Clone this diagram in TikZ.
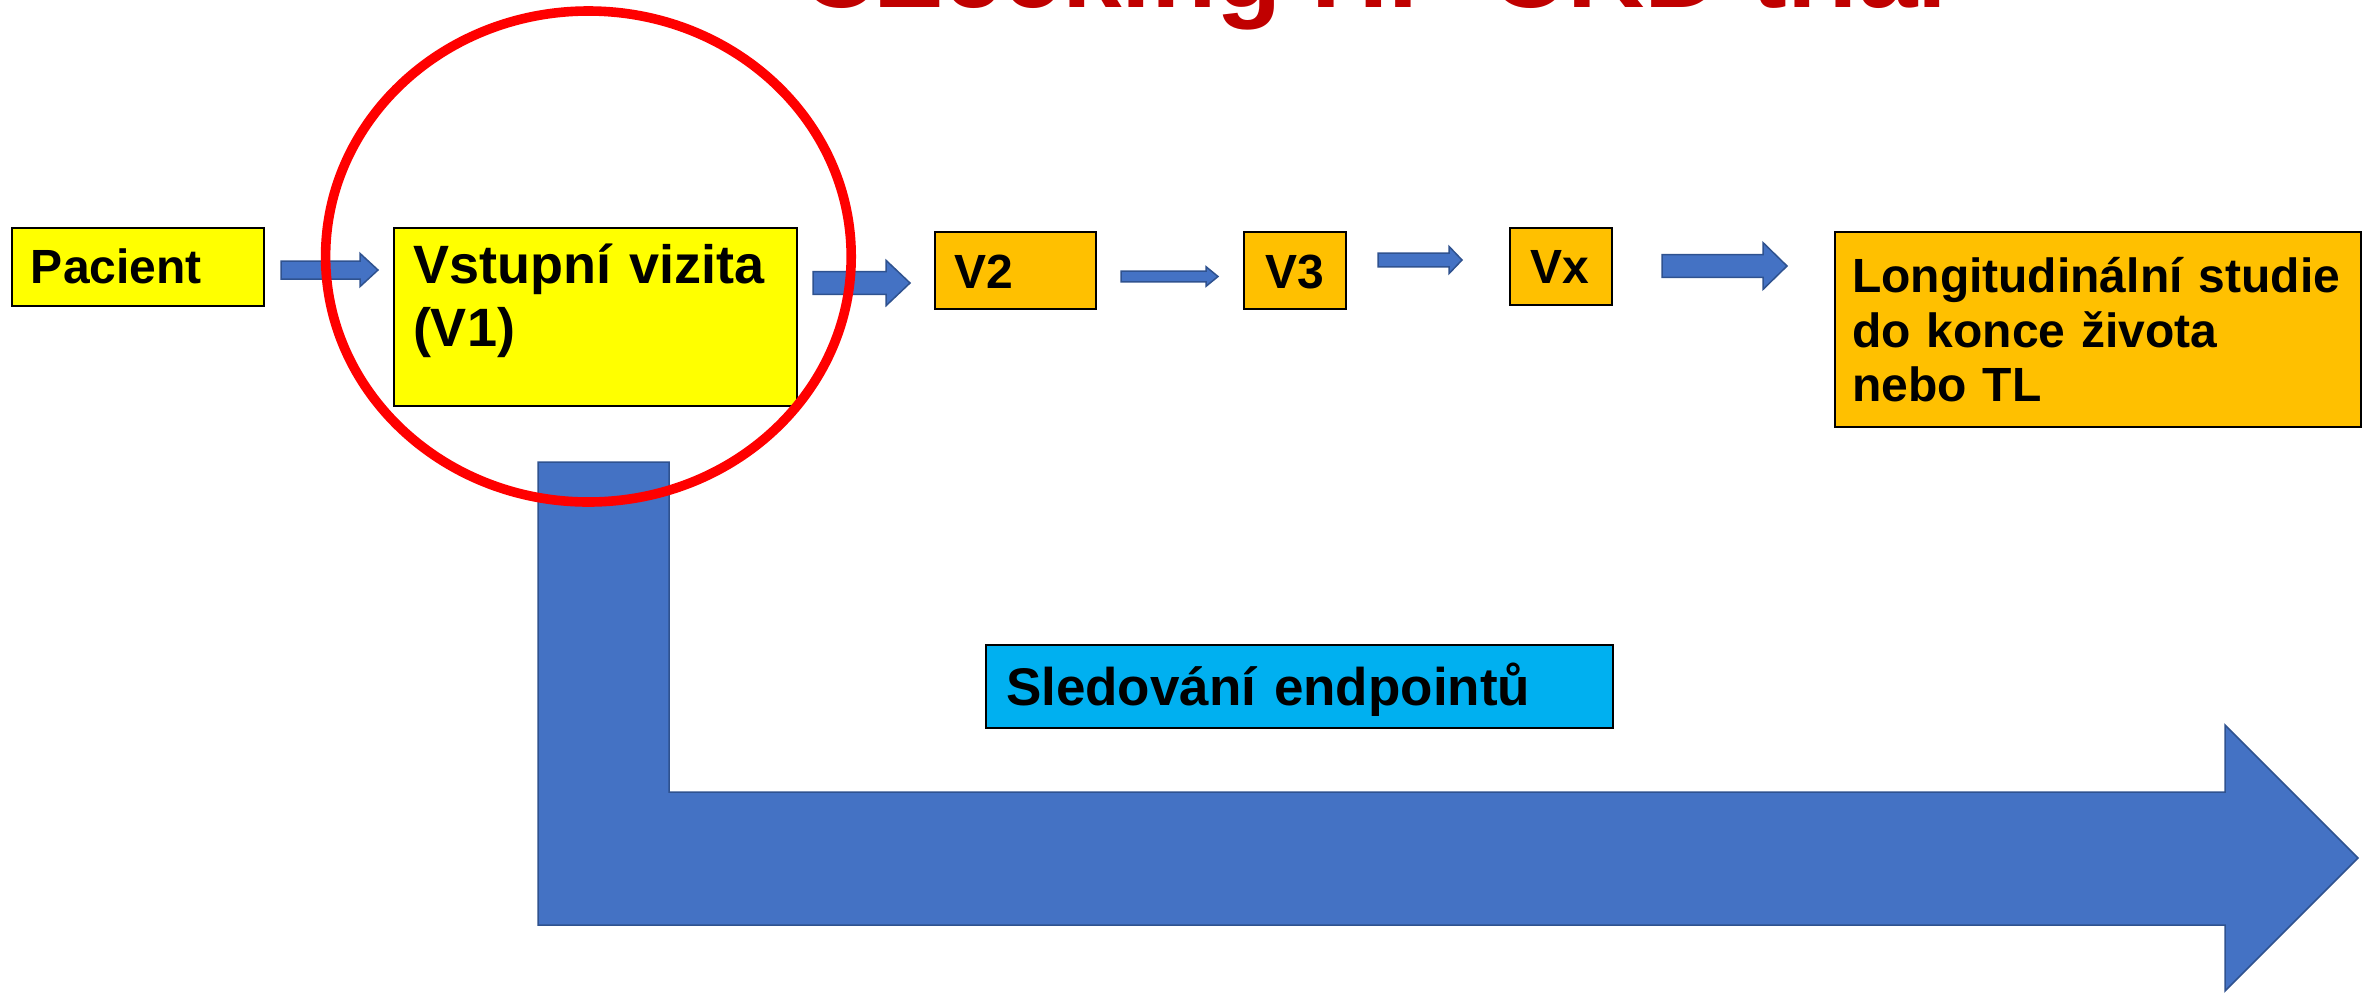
\documentclass[tikz,border=0pt]{standalone}
\usepackage{fontspec}
\setmainfont{Liberation Sans}
\usetikzlibrary{calc}

\definecolor{boxyellow}{HTML}{FFFF00}
\definecolor{boxorange}{HTML}{FFC000}
\definecolor{boxcyan}{HTML}{00B0F0}
\definecolor{arrowblue}{HTML}{4472C4}
\definecolor{arrowedge}{HTML}{2F528F}
\definecolor{ringred}{HTML}{FF0000}
\definecolor{titlered}{HTML}{C00000}

% block arrow: start point, tip point, shaft half width, head half width, head length
\newcommand\flowarrow[5]{%
  \filldraw[blockarrow] ($(#1)+(0,-#3)$) -- ($(#2)+(-#5,-#3)$) -- ($(#2)+(-#5,-#4)$)
    -- (#2) -- ($(#2)+(-#5,#4)$) -- ($(#2)+(-#5,#3)$) -- ($(#1)+(0,#3)$) -- cycle;}

\begin{document}
\begin{tikzpicture}[x=0.5pt,y=-0.5pt,
  stepbox/.style={draw=black, line width=1pt, anchor=north west,
    inner ysep=0pt, align=left, font=\bfseries\fontsize{24}{27.2}\selectfont},
  blockarrow/.style={fill=arrowblue, draw=arrowedge, line width=0.75pt, line join=miter},
  ring/.style={draw=ringred, line width=4.8pt}]

\useasboundingbox (0,0) rectangle (2369,992);
\clip (0,0) rectangle (2369,992);

% title, cut by the top edge
\node[anchor=base west, inner sep=0pt, text=titlered,
      font=\bfseries\fontsize{53.5}{60}\selectfont] (title) at (800,7) {CZecking HF-CKD trial};

% long follow-up arrow
\filldraw[blockarrow] (538,462) -- (669,462) -- (669,792) -- (2225,792) -- (2225,725)
  -- (2358,858) -- (2225,991) -- (2225,925) -- (538,925) -- cycle;

% visit boxes
\node[stepbox, fill=boxyellow, inner xsep=9.7pt, text width=107pt,
      text height=27.95pt, text depth=11.25pt] (pac) at (10.6,226.6) {Pacient};
\node[stepbox, fill=boxyellow, inner xsep=9.5pt, text width=182.5pt,
      text height=27.95pt, text depth=61.25pt,
      font=\bfseries\fontsize{27}{31.5}\selectfont] (v1) at (393,226.6) {Vstupní vizita\\(V1)};
\node[stepbox, fill=boxorange, inner xsep=9.5pt, text width=61.5pt,
      text height=28pt, text depth=10.5pt] (v2) at (934,231) {V2};
\node[stepbox, fill=boxorange, inner xsep=10.5pt, text width=30pt,
      text height=28pt, text depth=10.5pt] (v3) at (1243,231) {V3};
\node[stepbox, fill=boxorange, inner xsep=10pt, text width=31pt,
      text height=27.95pt, text depth=10.75pt] (vx) at (1509,226.6) {Vx};
\node[stepbox, fill=boxorange, inner xsep=8.5pt, text width=246pt,
      text height=30.3pt, text depth=67.2pt] (long) at (1834,231)
      {Longitudinální studie\\do konce života\\nebo TL};
\node[stepbox, fill=boxcyan, inner xsep=10pt, text width=293.5pt,
      text height=30pt, text depth=11.5pt,
      font=\bfseries\fontsize{26.5}{30}\selectfont] (sled) at (985,644) {Sledování endpointů};

% arrows between the visits
\coordinate (a1s) at (281,270);   \coordinate (a1e) at (378,270);
\coordinate (a2s) at (813,283);   \coordinate (a2e) at (910,283);
\coordinate (a3s) at (1121,276.5);\coordinate (a3e) at (1218,276.5);
\coordinate (a4s) at (1378,260);  \coordinate (a4e) at (1462,260);
\coordinate (a5s) at (1662,266);  \coordinate (a5e) at (1787,266);
\flowarrow{a1s}{a1e}{9}{16.6}{18}
\flowarrow{a2s}{a2e}{11.3}{22.7}{24}
\flowarrow{a3s}{a3e}{5.3}{9.8}{12}
\flowarrow{a4s}{a4e}{6.8}{13.6}{13}
\flowarrow{a5s}{a5e}{11.3}{23.4}{24}

% highlight ring round the entry visit
\draw[ring] (588.4,256.5) ellipse [x radius=262.8, y radius=245.5];
\end{tikzpicture}
\end{document}
